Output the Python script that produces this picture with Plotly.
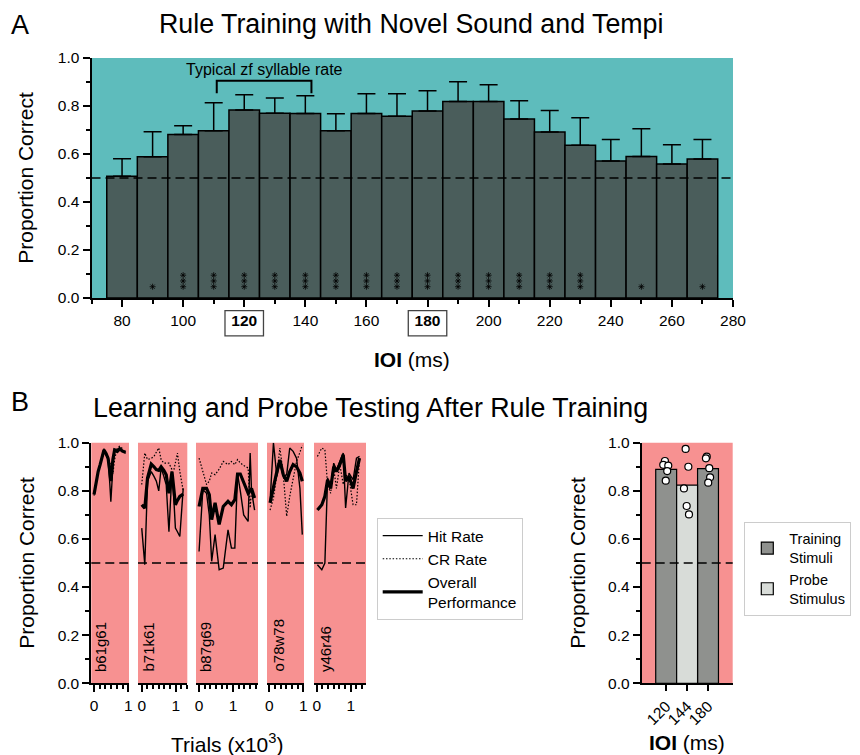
import plotly.graph_objects as go

# ---------------- Data ----------------
# Panel A
ioi = [80, 90, 100, 110, 120, 130, 140, 150, 160, 170, 180, 190, 200, 210, 220, 230, 240, 250, 260, 270]
prop_correct = [0.507, 0.589, 0.681, 0.697, 0.783, 0.770, 0.769, 0.697, 0.769, 0.757, 0.779, 0.819,
                0.819, 0.746, 0.692, 0.636, 0.571, 0.590, 0.558, 0.579]
err_upper = [0.580, 0.693, 0.718, 0.814, 0.847, 0.833, 0.843, 0.768, 0.851, 0.851, 0.864, 0.901,
             0.889, 0.822, 0.781, 0.751, 0.660, 0.705, 0.639, 0.660]
significance = ["", "*", "***", "***", "***", "***", "***", "***", "***", "***", "***", "***",
                "***", "***", "***", "***", "", "*", "", "*"]
a_xticks = [80, 100, 120, 140, 160, 180, 200, 220, 240, 260, 280]
a_xticktext = ["80", "100", "<b>120</b>", "140", "160", "<b>180</b>", "200", "220", "240", "260", "280"]
boxed_ticks = [120, 180]
bracket_range = [111, 142]

# Panel B (left): learning curves, trials in thousands
birds = ["b61g61", "b71k61", "b87g69", "o78w78", "y46r46"]
trials = [
    [0, 0.06, 0.12, 0.18, 0.24, 0.29, 0.35, 0.41, 0.46, 0.49, 0.55, 0.60, 0.68, 0.75, 0.83, 0.92],
    [0, 0.09, 0.17, 0.28, 0.36, 0.43, 0.50, 0.57, 0.65, 0.72, 0.80, 0.85, 0.89, 0.95, 0.99, 1.05, 1.12, 1.22],
    [0, 0.11, 0.22, 0.30, 0.37, 0.47, 0.59, 0.71, 0.85, 0.95, 1.05, 1.13, 1.21, 1.31, 1.44, 1.50, 1.54, 1.63],
    [0.02, 0.12, 0.22, 0.31, 0.41, 0.51, 0.60, 0.70, 0.80, 0.90, 0.97],
    [0.02, 0.15, 0.24, 0.32, 0.41, 0.50, 0.58, 0.68, 0.78, 0.85, 0.95, 1.07, 1.17, 1.26],
]
overall = [
    [0.785, 0.84, 0.88, 0.91, 0.94, 0.97, 0.955, 0.935, 0.88, 0.84, 0.93, 0.97, 0.965, 0.975, 0.965, 0.96],
    [0.742, 0.728, 0.853, 0.911, 0.90, 0.888, 0.885, 0.90, 0.885, 0.867, 0.79, 0.84, 0.88, 0.80, 0.742, 0.76, 0.777, 0.787],
    [0.735, 0.81, 0.81, 0.784, 0.68, 0.75, 0.66, 0.735, 0.756, 0.742, 0.763, 0.87, 0.87, 0.832, 0.79, 0.80, 0.81, 0.77],
    [0.75, 0.818, 0.88, 0.929, 0.867, 0.84, 0.88, 0.909, 0.90, 0.874, 0.84],
    [0.72, 0.742, 0.777, 0.846, 0.81, 0.90, 0.88, 0.909, 0.95, 0.84, 0.86, 0.81, 0.88, 0.936],
]
hit_rate = [
    [0.79, 0.84, 0.88, 0.91, 0.945, 0.975, 0.95, 0.93, 0.83, 0.755, 0.90, 0.975, 0.96, 0.97, 0.965, 0.96],
    [0.645, 0.493, 0.84, 0.88, 0.86, 0.84, 0.80, 0.895, 0.86, 0.825, 0.63, 0.78, 0.88, 0.75, 0.645, 0.63, 0.61, 0.81],
    [0.548, 0.805, 0.79, 0.70, 0.507, 0.618, 0.472, 0.479, 0.638, 0.562, 0.562, 0.87, 0.80, 0.70, 0.673, 0.957, 0.80, 0.72],
    [0.756, 1.0, 0.86, 0.915, 0.86, 0.867, 0.978, 0.964, 0.936, 0.81, 0.618],
    [0.493, 0.472, 0.50, 0.853, 0.818, 0.915, 0.888, 0.922, 0.957, 0.729, 0.874, 0.846, 0.936, 0.943],
]
cr_rate = [
    [0.78, 0.84, 0.88, 0.905, 0.935, 0.965, 0.96, 0.94, 0.92, 0.90, 0.87, 0.93, 0.98, 0.985, 0.975, 0.955],
    [0.826, 0.957, 0.93, 0.935, 0.943, 0.96, 0.978, 0.93, 0.915, 0.915, 0.915, 0.90, 0.888, 0.89, 0.92, 0.957, 0.88, 0.80],
    [0.936, 0.88, 0.826, 0.84, 0.874, 0.867, 0.89, 0.922, 0.909, 0.922, 0.909, 0.93, 0.916, 0.905, 0.895, 0.729, 0.80, 0.79],
    [0.72, 0.77, 0.867, 0.978, 0.867, 0.694, 0.777, 0.853, 0.922, 0.96, 0.99],
    [0.943, 0.978, 0.971, 0.826, 0.79, 0.895, 0.81, 0.909, 0.826, 0.867, 0.853, 0.742, 0.742, 0.936],
]
trial_ranges = [[-0.08, 1.02], [-0.11, 1.34], [-0.09, 1.73], [-0.07, 1.02], [-0.08, 1.45]]

# Panel B (right): probe test
probe_labels = ["120", "144", "180"]
probe_pos = [0, 1, 2]
training_pos = [0, 2]
training_vals = [0.889, 0.892]
probe_vals = [0.824]
dots_x = [-0.06, -0.14, 0.10, 0.05, -0.02,
          0.93, 1.06, 0.85, 0.98, 1.09,
          1.94, 1.90, 2.06, 2.10, 2.01]
dots_y = [0.924, 0.908, 0.905, 0.882, 0.842,
          0.974, 0.900, 0.810, 0.737, 0.702,
          0.942, 0.935, 0.894, 0.856, 0.834]

# ---------------- Style ----------------
OFF = 8            # default page body margin
W, H = 852, 747    # figure size so that figure + page margin fills the window
FONT = "Liberation Sans, Arial, sans-serif"
CYAN = "#5EBCBC"
SLATE = "#4A5D5B"
SALMON = "#F79191"
TRAIN = "#8F918E"
PROBE = "#D8DCD8"
TICK_SIZE = 15.5
AXTITLE_SIZE = 21
TITLE_SIZE = 26.8


def px(x):
    return (x - OFF) / W


def py(y):
    return 1 - (y - OFF) / H


def dx(a, b):
    return [px(a), px(b)]


def dy(top, bottom):
    return [py(bottom), py(top)]


fig = go.Figure()

# Panel A bars
fig.add_trace(go.Bar(
    x=ioi, y=prop_correct, width=10, xaxis="x", yaxis="y",
    marker=dict(color=SLATE, line=dict(color="black", width=1.5)),
    error_y=dict(type="data", symmetric=False,
                 array=[u - v for u, v in zip(err_upper, prop_correct)],
                 arrayminus=[0] * len(ioi), color="black", thickness=1.5, width=9),
    showlegend=False, hoverinfo="x+y",
))

# significance stars (drawn as asterisk markers)
sx, sy = [], []
for x, s in zip(ioi, significance):
    for k in range(len(s)):
        sx.append(x)
        sy.append(0.047 + 0.024 * k)
fig.add_trace(go.Scatter(x=sx, y=sy, mode="markers", xaxis="x", yaxis="y",
                         marker=dict(symbol="asterisk-open", size=5, color="black",
                                     line=dict(color="#111111", width=0.8)),
                         showlegend=False, hoverinfo="skip"))

# Panel B learning curves
for i in range(5):
    xa = "x" + str(i + 2)
    ya = "y" + str(i + 2)
    first = i == 0
    fig.add_trace(go.Scatter(x=trials[i], y=hit_rate[i], mode="lines", name="Hit Rate",
                             line=dict(color="black", width=1.4), xaxis=xa, yaxis=ya,
                             legend="legend", legendgroup="hit", showlegend=first))
    fig.add_trace(go.Scatter(x=trials[i], y=cr_rate[i], mode="lines", name="CR Rate",
                             line=dict(color="black", width=1.2, dash="1.5px,1.8px"), xaxis=xa, yaxis=ya,
                             legend="legend", legendgroup="cr", showlegend=first))
    fig.add_trace(go.Scatter(x=trials[i], y=overall[i], mode="lines", name="Overall<br>Performance",
                             line=dict(color="black", width=3.2), xaxis=xa, yaxis=ya,
                             legend="legend", legendgroup="ov", showlegend=first))

# Panel B right bars
fig.add_trace(go.Bar(x=training_pos, y=training_vals, width=1.0, name="Training<br>Stimuli",
                     marker=dict(color=TRAIN, line=dict(color="black", width=1.2)),
                     xaxis="x7", yaxis="y7", legend="legend2"))
fig.add_trace(go.Bar(x=[1], y=probe_vals, width=1.0, name="Probe<br>Stimulus",
                     marker=dict(color=PROBE, line=dict(color="black", width=1.2)),
                     xaxis="x7", yaxis="y7", legend="legend2"))
fig.add_trace(go.Scatter(x=dots_x, y=dots_y, mode="markers", xaxis="x7", yaxis="y7",
                         marker=dict(color="white", size=7, line=dict(color="black", width=1.2)),
                         showlegend=False))

axis_common = dict(showgrid=False, zeroline=False, showline=True, linecolor="black", linewidth=2,
                   ticks="outside", tickcolor="black", tickwidth=2, ticklen=6, automargin=False,
                   tickfont=dict(family=FONT, size=TICK_SIZE, color="black"))
y_ticks = [0, 0.2, 0.4, 0.6, 0.8, 1.0]
y_minor = [0.1, 0.3, 0.5, 0.7, 0.9]
y_minor_cfg = dict(tickvals=y_minor, ticklen=4, tickwidth=1.5, tickcolor="black", ticks="outside")

layout = dict(
    width=W, height=H, autosize=False,
    margin=dict(l=0, r=0, t=0, b=0, autoexpand=False),
    paper_bgcolor="white", plot_bgcolor="rgba(0,0,0,0)",
    font=dict(family=FONT, size=14, color="black"),
    barmode="overlay",
)

# Panel A axes
layout["xaxis"] = dict(axis_common, domain=dx(91.5, 733), range=[70, 280], anchor="y",
                       tickvals=a_xticks, ticktext=a_xticktext, ticklen=7,
                       minor=dict(tickvals=list(range(70, 281, 10)), ticklen=4, tickwidth=1.5,
                                  tickcolor="black", ticks="outside"))
layout["yaxis"] = dict(axis_common, domain=dy(58, 298), range=[0, 1], anchor="x",
                       tickvals=y_ticks, ticktext=["%.1f" % v for v in y_ticks], ticklen=7,
                       minor=y_minor_cfg)

# Panel B small axes
small_x = [(91.3, 129), (138, 187.3), (196, 258), (267, 304), (314, 366)]
for i in range(5):
    n = str(i + 2)
    lo, hi = trial_ranges[i]
    minor_vals = [k / 6 for k in range(0, 12) if lo <= k / 6 <= hi and k % 6 != 0]
    layout["xaxis" + n] = dict(axis_common, domain=dx(*small_x[i]), range=trial_ranges[i],
                               anchor="y" + n, tickvals=[0, 1], ticktext=["0", "1"], ticklen=7,
                               minor=dict(tickvals=minor_vals, ticklen=4, tickwidth=1.5,
                                          tickcolor="black", ticks="outside"))
    if i == 0:
        layout["yaxis" + n] = dict(axis_common, domain=dy(442.7, 683.3), range=[0, 1],
                                   anchor="x" + n, tickvals=y_ticks,
                                   ticktext=["%.1f" % v for v in y_ticks], ticklen=7,
                                   minor=y_minor_cfg)
    else:
        layout["yaxis" + n] = dict(domain=dy(442.7, 683.3), range=[0, 1], anchor="x" + n,
                                   visible=False, showgrid=False, zeroline=False)

# Panel B right axes
layout["xaxis7"] = dict(axis_common, domain=dx(641.7, 732.7), range=[-1.17, 3.18], anchor="y7",
                        tickvals=probe_pos, ticktext=probe_labels, tickangle=-45, ticklen=6)
layout["yaxis7"] = dict(axis_common, domain=dy(442.7, 683.3), range=[0, 1], anchor="x7",
                        tickvals=y_ticks, ticktext=["%.1f" % v for v in y_ticks], ticklen=7,
                        minor=y_minor_cfg)

layout["legend"] = dict(x=px(376.7), y=py(518), xref="container", yref="container",
                        xanchor="left", yanchor="top", itemwidth=40,
                        bordercolor="#cccccc", borderwidth=1, bgcolor="white",
                        font=dict(family=FONT, size=15.5, color="black"), tracegroupgap=0)
layout["legend2"] = dict(x=px(744.3), y=py(521.7), xref="container", yref="container",
                         xanchor="left", yanchor="top", itemwidth=34,
                         bordercolor="#cccccc", borderwidth=1, bgcolor="white",
                         font=dict(family=FONT, size=14.5, color="black"), tracegroupgap=4)

shapes = []
# backgrounds
shapes.append(dict(type="rect", xref="x domain", yref="y domain", x0=0, x1=1, y0=0, y1=1,
                   fillcolor=CYAN, line=dict(width=0), layer="below"))
for i in range(5):
    n = str(i + 2)
    shapes.append(dict(type="rect", xref="x" + n + " domain", yref="y" + n + " domain",
                       x0=0, x1=1, y0=0, y1=1, fillcolor=SALMON, line=dict(width=0), layer="below"))
shapes.append(dict(type="rect", xref="x7 domain", yref="y7 domain", x0=0, x1=1, y0=0, y1=1,
                   fillcolor=SALMON, line=dict(width=0), layer="below"))
# chance lines
for xr, yr in [("x", "y")] + [("x" + str(i + 2), "y" + str(i + 2)) for i in range(5)] + [("x7", "y7")]:
    shapes.append(dict(type="line", xref=xr + " domain", yref=yr, x0=0, x1=1, y0=0.5, y1=0.5,
                       line=dict(color="black", width=1.3, dash="9px,5px"), layer="above"))
# bracket
shapes.append(dict(type="path", xref="x", yref="y",
                   path="M %f,0.853 L %f,0.905 L %f,0.905 L %f,0.853" % (
                       bracket_range[0], bracket_range[0], bracket_range[1], bracket_range[1]),
                   line=dict(color="black", width=2)))
# boxes around highlighted tick labels
for t in boxed_ticks:
    shapes.append(dict(type="rect", xref="x", yref="y domain", x0=t - 6.3, x1=t + 6.3,
                       y0=-0.158, y1=-0.053, line=dict(color="#444444", width=1.3)))
layout["shapes"] = shapes


def ann(text, x, y, size, angle=0, xanchor="center", yanchor="middle"):
    return dict(text=text, x=px(x), y=py(y), xref="paper", yref="paper", showarrow=False,
                textangle=angle, xanchor=xanchor, yanchor=yanchor,
                font=dict(family=FONT, size=size, color="black"))


annotations = [
    ann("A", 20, 25, 27),
    ann("Rule Training with Novel Sound and Tempi", 411, 24, TITLE_SIZE),
    ann("B", 20, 402, 27),
    ann("Learning and Probe Testing After Rule Training", 370, 408, TITLE_SIZE),
    dict(text="Typical zf syllable rate", x=(bracket_range[0] + bracket_range[1]) / 2, y=0.95,
         xref="x", yref="y", showarrow=False, xanchor="center", yanchor="middle",
         font=dict(family=FONT, size=16, color="black")),
    # axis titles
    ann("Proportion Correct", 25.8, 178, AXTITLE_SIZE, angle=-90),
    ann("<b>IOI</b> (ms)", 412, 359, AXTITLE_SIZE),
    ann("Proportion Correct", 25.8, 563, AXTITLE_SIZE, angle=-90),
    ann("Trials (x10<sup>3</sup>)", 227, 743, AXTITLE_SIZE),
    ann("Proportion Correct", 576.7, 563, AXTITLE_SIZE, angle=-90),
    ann("<b>IOI</b> (ms)", 687, 742, AXTITLE_SIZE),
]
bird_label_x = [100, 148, 205, 278, 325]
for name, lx in zip(birds, bird_label_x):
    annotations.append(ann(name, lx, 674, 15, angle=-90, yanchor="bottom"))
layout["annotations"] = annotations

fig.update_layout(layout)
fig.write_html("out.html")
